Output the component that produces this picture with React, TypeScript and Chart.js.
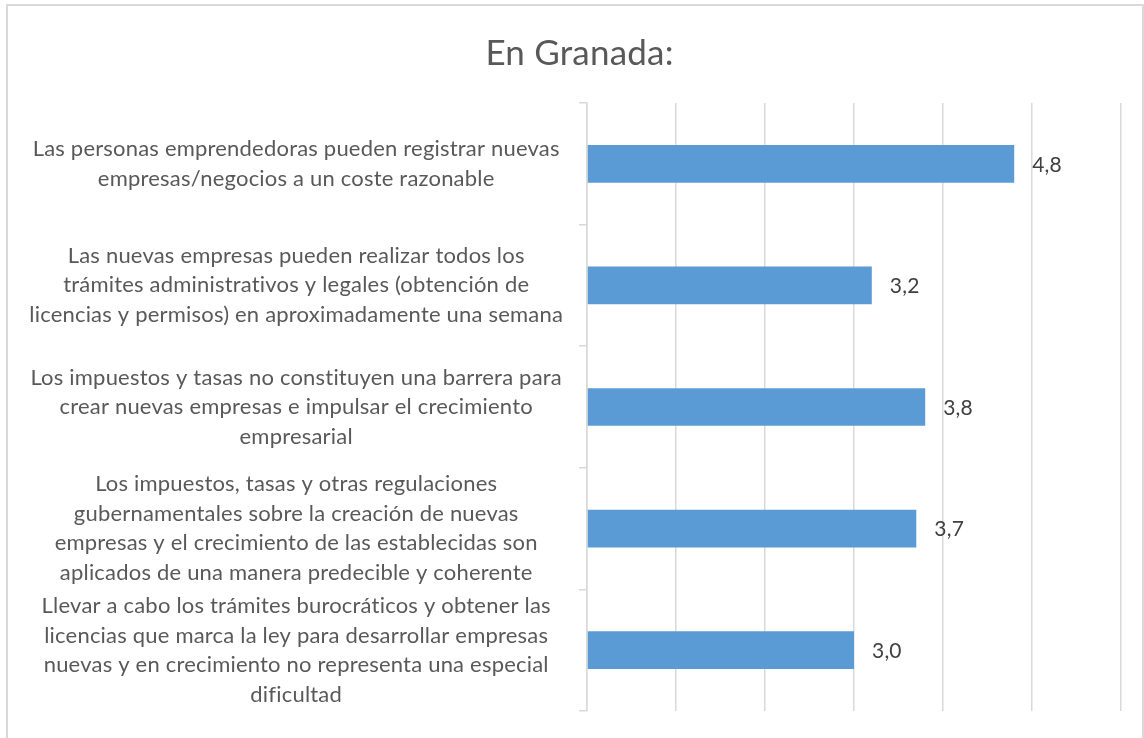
import React, { useEffect, useRef } from "react";
import { Chart, registerables } from "chart.js";

Chart.register(...registerables);

const TITLE = "En Granada:";
const CATEGORIES: string[][] = [
  ["Las personas emprendedoras pueden registrar nuevas", "empresas/negocios a un coste razonable"],
  ["Las nuevas empresas pueden realizar todos los", "trámites administrativos y legales (obtención de", "licencias y permisos) en aproximadamente una semana"],
  ["Los impuestos y tasas no constituyen una barrera para", "crear nuevas empresas e impulsar el crecimiento", "empresarial"],
  ["Los impuestos, tasas y otras regulaciones", "gubernamentales sobre la creación de nuevas", "empresas y el crecimiento de las establecidas son", "aplicados de una manera predecible y coherente"],
  ["Llevar a cabo los trámites burocráticos y obtener las", "licencias que marca la ley para desarrollar empresas", "nuevas y en crecimiento no representa una especial", "dificultad"],
];
const VALUES: number[] = [4.8, 3.2, 3.8, 3.7, 3.0];
const X_MIN = 0;
const X_MAX = 6;
const X_STEP = 1;

const FONT = "Lato, 'Open Sans', sans-serif";

const noLigatures = {
  id: "noLigatures",
  beforeDraw(chart: any) {
    (chart.ctx as any).letterSpacing = "0.2px";
  },
};

const shiftTitle = {
  id: "shiftTitle",
  afterLayout(chart: any) {
    const t = chart.titleBlock;
    if (t) t.left += 30;
  },
};

const valueLabels = {
  id: "valueLabels",
  afterDatasetsDraw(chart: any) {
    const ctx = chart.ctx;
    const meta = chart.getDatasetMeta(0);
    ctx.save();
    ctx.font = `21px ${FONT}`;
    ctx.fillStyle = "#404040";
    ctx.textAlign = "left";
    ctx.textBaseline = "middle";
    meta.data.forEach((bar: any, i: number) => {
      const v = chart.data.datasets[0].data[i] as number;
      ctx.fillText(v.toFixed(1).replace(".", ","), bar.x + 18, bar.y + 1);
    });
    ctx.restore();
  },
};

export default function App() {
  const ref = useRef<HTMLCanvasElement>(null);
  useEffect(() => {
    if (!ref.current) return;
    const chart = new Chart(ref.current, {
      type: "bar",
      data: {
        labels: CATEGORIES,
        datasets: [
          {
            data: VALUES,
            backgroundColor: "#5B9BD5",
            borderWidth: 0,
            categoryPercentage: 1,
            barPercentage: 0.31,
          },
        ],
      },
      options: {
        indexAxis: "y",
        animation: false,
        responsive: true,
        maintainAspectRatio: false,
        layout: { padding: { left: 0, right: 21, top: 0, bottom: 27 } },
        plugins: {
          legend: { display: false },
          tooltip: { enabled: false },
          title: {
            display: true,
            text: TITLE,
            color: "#595959",
            font: { family: FONT, size: 35, weight: "normal", lineHeight: 1.2 },
            padding: { top: 27, bottom: 28 },
          },
        },
        scales: {
          x: {
            min: X_MIN,
            max: X_MAX,
            ticks: { display: false, stepSize: X_STEP },
            grid: { color: "#d9d9d9", lineWidth: 1.5, drawTicks: false },
            border: { display: false },
          },
          y: {
            afterFit(scale: any) {
              scale.width = 579;
              scale.paddingTop = 0;
              scale.paddingBottom = 0;
            },
            ticks: {
              color: "#595959",
              font: { family: FONT, size: 22, lineHeight: "29.5px" } as any,
              crossAlign: "center",
              padding: 21,
              autoSkip: false,
            },
            grid: {
              offset: true,
              drawOnChartArea: false,
              drawTicks: true,
              tickLength: 8,
              color: "#d9d9d9",
              lineWidth: 1.5,
            },
            border: { display: true, color: "#d9d9d9", width: 1.5 },
          },
        },
      },
      plugins: [noLigatures, shiftTitle, valueLabels],
    });
    return () => chart.destroy();
  }, []);

  return (
    <div
      style={{
        position: "absolute",
        left: 6,
        top: 4,
        width: 1138,
        height: 734,
        borderTop: "2px solid #d9d9d9",
        borderLeft: "2px solid #d9d9d9",
        borderRight: "2px solid #d9d9d9",
        boxSizing: "border-box",
        background: "#fff",
      }}
    >
      <div style={{ position: "relative", width: "100%", height: "100%" }}>
        <canvas ref={ref} />
      </div>
    </div>
  );
}
